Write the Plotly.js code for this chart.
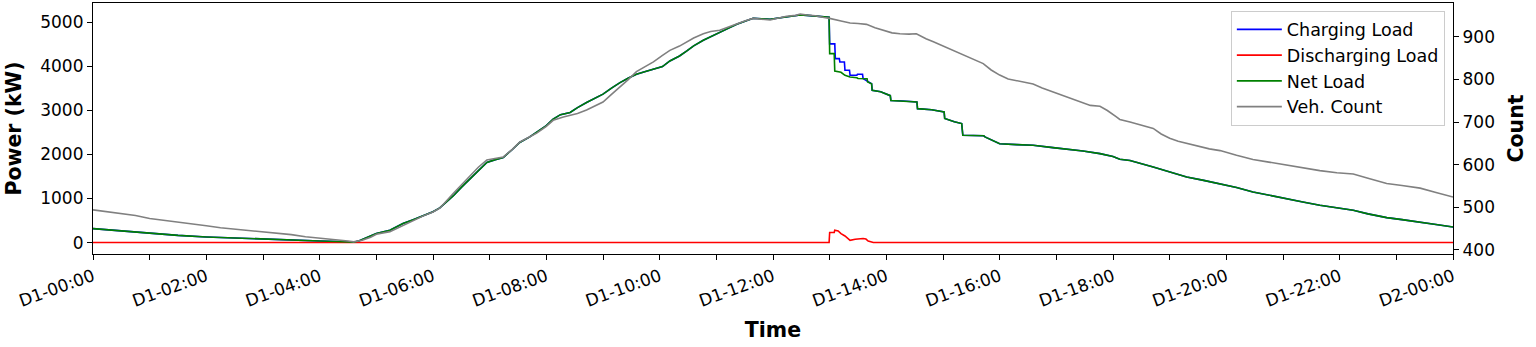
<!DOCTYPE html>
<html>
<head>
<meta charset="utf-8">
<script src="https://cdn.plot.ly/plotly-3.0.1.min.js"></script>
<style>
  body { margin: 0; background: #fff; }
  #plot { width: 1536px; height: 347px; }
</style>
</head>
<body>
<div id="plot"></div>
<script>
// hours since D1-00:00
var tickHours = [0,1,2,3,4,5,6,7,8,9,10,11,12,13,14,15,16,17,18,19,20,21,22,23,24];
var tickLabels = ['D1-00:00','','D1-02:00','','D1-04:00','','D1-06:00','','D1-08:00','','D1-10:00','','D1-12:00','',
                  'D1-14:00','','D1-16:00','','D1-18:00','','D1-20:00','','D1-22:00','','D2-00:00'];

// charging load (kW)
var tCharge = [0,0.5,1,1.5,2,2.5,3,3.5,4,4.3,4.5,4.6,4.7,4.83,5,5.24,5.47,5.65,5.83,6,6.12,6.36,6.5,6.65,6.8,6.95,7.1,7.24,
  7.4,7.53,7.7,7.83,8,8.12,8.25,8.42,8.55,8.71,8.85,9,9.15,9.3,9.45,9.59,9.75,9.89,10.05,10.18,10.35,10.48,10.6,10.77,
  10.9,11.06,11.2,11.36,11.5,11.65,11.8,11.95,12.1,12.24,12.4,12.48,12.6,12.75,12.9,12.99,
  13.0,13.09,13.1,13.17,13.18,13.26,13.27,13.35,13.36,13.48,13.49,13.58,13.59,13.66,
  13.74,13.75,13.9,14.07,14.08,14.3,14.54,14.55,14.8,15.02,15.03,15.2,15.33,15.35,15.72,15.74,16,16.3,16.59,16.94,17.2,
  17.47,17.77,18,18.12,18.3,18.71,19,19.3,19.6,19.89,20.18,20.47,20.75,21.06,21.35,21.65,21.95,22.24,22.5,22.83,23.1,
  23.42,23.7,24];
var charging = [317,262,204,163,127,100,75,55,36,25,14,8,40,106,204,279,431,520,619,700,785,1063,1250,1441,1620,1817,1880,1930,
  2110,2270,2390,2496,2650,2798,2900,2948,3060,3175,3260,3364,3500,3627,3730,3816,3880,3929,3990,4118,4230,4344,4460,4586,
  4670,4758,4850,4948,5020,5084,5075,5061,5090,5113,5140,5160,5150,5140,5120,5110,
  4505,4505,4170,4170,4094,4094,3906,3906,3792,3792,3815,3815,3717,3663,
  3600,3452,3420,3330,3220,3210,3187,3036,3010,2962,2812,2740,2698,2433,2420,2396,2240,2220,2206,2153,2120,
  2077,2017,1950,1890,1860,1713,1600,1487,1410,1337,1250,1147,1070,998,920,845,790,732,650,566,520,
  467,410,354];

// discharging load (kW)
var tDischarge = [0,12.99,13.0,13.08,13.09,13.15,13.2,13.27,13.36,13.45,13.59,13.64,13.68,13.77,24];
var discharging = [0,0,227,227,279,263,204,150,52,75,91,80,36,0,0];

// net load (kW)
var tNet = [0,0.5,1,1.5,2,2.5,3,3.5,4,4.3,4.5,4.6,4.7,4.83,5,5.24,5.47,5.65,5.83,6,6.12,6.36,6.5,6.65,6.8,6.95,7.1,7.24,
  7.4,7.53,7.7,7.83,8,8.12,8.25,8.42,8.55,8.71,8.85,9,9.15,9.3,9.45,9.59,9.75,9.89,10.05,10.18,10.35,10.48,10.6,10.77,
  10.9,11.06,11.2,11.36,11.5,11.65,11.8,11.95,12.1,12.24,12.4,12.48,12.6,12.75,12.9,12.99,
  13.0,13.08,13.09,13.2,13.27,13.36,13.48,13.5,13.66,13.67,
  13.74,13.75,13.9,14.07,14.08,14.3,14.54,14.55,14.8,15.02,15.03,15.2,15.33,15.35,15.72,15.74,16,16.3,16.59,16.94,17.2,
  17.47,17.77,18,18.12,18.3,18.71,19,19.3,19.6,19.89,20.18,20.47,20.75,21.06,21.35,21.65,21.95,22.24,22.5,22.83,23.1,
  23.42,23.7,24];
var net = [317,262,204,163,127,100,75,55,36,25,14,8,40,106,204,279,431,520,619,700,785,1063,1250,1441,1620,1817,1880,1930,
  2110,2270,2390,2496,2650,2798,2900,2948,3060,3175,3260,3364,3500,3627,3730,3816,3880,3929,3990,4118,4230,4344,4460,4586,
  4670,4758,4850,4948,5020,5084,5075,5061,5090,5113,5140,5160,5150,5140,5120,5110,
  4284,4284,3890,3860,3792,3754,3737,3720,3713,3640,
  3600,3452,3420,3330,3220,3210,3187,3036,3010,2962,2812,2740,2698,2433,2420,2396,2240,2220,2206,2153,2120,
  2077,2017,1950,1890,1860,1713,1600,1487,1410,1337,1250,1147,1070,998,920,845,790,732,650,566,520,
  467,410,354];

// vehicle count
var tCount = [0,0.25,0.5,0.75,1,1.25,1.5,1.75,2,2.25,2.5,2.75,3,3.25,3.5,3.75,4,4.25,4.5,4.6,4.75,4.9,5,5.24,5.47,5.65,
  5.83,6,6.12,6.36,6.5,6.65,6.8,6.95,7.1,7.24,7.4,7.53,7.7,7.83,8,8.12,8.3,8.42,8.55,8.71,8.85,9,9.15,9.3,9.45,9.59,9.75,
  9.89,10.05,10.18,10.35,10.48,10.6,10.77,10.9,11.06,11.2,11.36,11.5,11.65,11.8,11.95,12.1,12.24,12.4,12.48,12.6,12.75,
  12.9,13,13.2,13.36,13.5,13.65,13.8,13.94,14.1,14.24,14.4,14.53,14.7,14.83,15,15.12,15.25,15.42,15.55,15.71,15.85,16,
  16.15,16.3,16.45,16.59,16.75,16.89,17.05,17.18,17.35,17.47,17.6,17.77,17.9,18.06,18.12,18.3,18.5,18.71,18.85,19,19.15,
  19.3,19.5,19.7,19.89,20.05,20.18,20.3,20.47,20.75,21.06,21.35,21.65,21.95,22.24,22.5,22.83,23.1,23.42,23.7,24];
var vehCount = [494,490,486,481,474,470,466,462,457,452,449,446,443,439,436,431,428,424,421,419,423,430,437,443,458,468,
  480,489,498,533,552,573,594,611,615,618,636,653,665,674,690,704,712,716,720,728,737,747,765,782,800,818,830,
  841,856,868,878,888,897,907,912,915,922,931,937,943,941,939,944,948,950,953,951,949,
  945,943,937,932,931,929,921,915,909,907,906,907,895,888,878,872,864,853,846,837,822,810,
  801,797,793,789,780,773,766,759,751,744,739,737,727,712,706,700,692,685,672,662,655,
  650,643,637,633,626,622,618,612,606,599,592,586,581,578,568,556,551,545,535,524];

var font = 'DejaVu Sans, sans-serif';

var traces = [
  {x: tCharge, y: charging, type: 'scatter', mode: 'lines', name: 'Charging Load',
   line: {color: '#0000ff', width: 1.6}, legendgroup: 'a'},
  {x: tDischarge, y: discharging, type: 'scatter', mode: 'lines', name: 'Discharging Load',
   line: {color: '#ff0000', width: 1.6}, legendgroup: 'b'},
  {x: tNet, y: net, type: 'scatter', mode: 'lines', name: 'Net Load',
   line: {color: '#008000', width: 1.6}, legendgroup: 'c'},
  {x: tCount, y: vehCount, type: 'scatter', mode: 'lines', name: 'Veh. Count', yaxis: 'y2',
   line: {color: '#808080', width: 1.6}, legendgroup: 'd'}
];

var layout = {
  width: 1536, height: 347,
  margin: {l: 93, r: 83, t: 3, b: 93},
  paper_bgcolor: '#fff', plot_bgcolor: '#fff',
  font: {family: font, size: 17, color: '#000'},
  showlegend: true,
  legend: {x: 0.994, xanchor: 'right', y: 0.97, yanchor: 'top', bgcolor: 'rgba(255,255,255,0.8)',
    bordercolor: '#cccccc', borderwidth: 1, font: {size: 17.5}, tracegroupgap: 0, itemwidth: 45},
  xaxis: {
    range: [0, 24], tickvals: tickHours, ticktext: tickLabels, tickangle: -20,
    ticks: 'outside', ticklen: 5, tickcolor: '#000', showgrid: false, zeroline: false,
    showline: true, linecolor: '#000', linewidth: 1.2, mirror: true,
    title: {text: '<b>Time</b>', font: {size: 20.5}, standoff: 12}
  },
  yaxis: {
    range: [-259, 5431], tickvals: [0,1000,2000,3000,4000,5000],
    ticks: 'outside', ticklen: 5, tickcolor: '#000', showgrid: false, zeroline: false,
    showline: true, linecolor: '#000', linewidth: 1.2, mirror: true,
    title: {text: '<b>Power (kW)</b>', font: {size: 20.5}, standoff: 13}
  },
  yaxis2: {
    range: [390.6, 979], tickvals: [400,500,600,700,800,900], overlaying: 'y', side: 'right',
    ticks: 'outside', ticklen: 5, tickcolor: '#000', showgrid: false, zeroline: false,
    showline: true, linecolor: '#000', linewidth: 1.2,
    title: {text: '<b>Count</b>', font: {size: 20.5}, standoff: 14}
  }
};

Plotly.newPlot('plot', traces, layout, {displayModeBar: false});
</script>
</body>
</html>
